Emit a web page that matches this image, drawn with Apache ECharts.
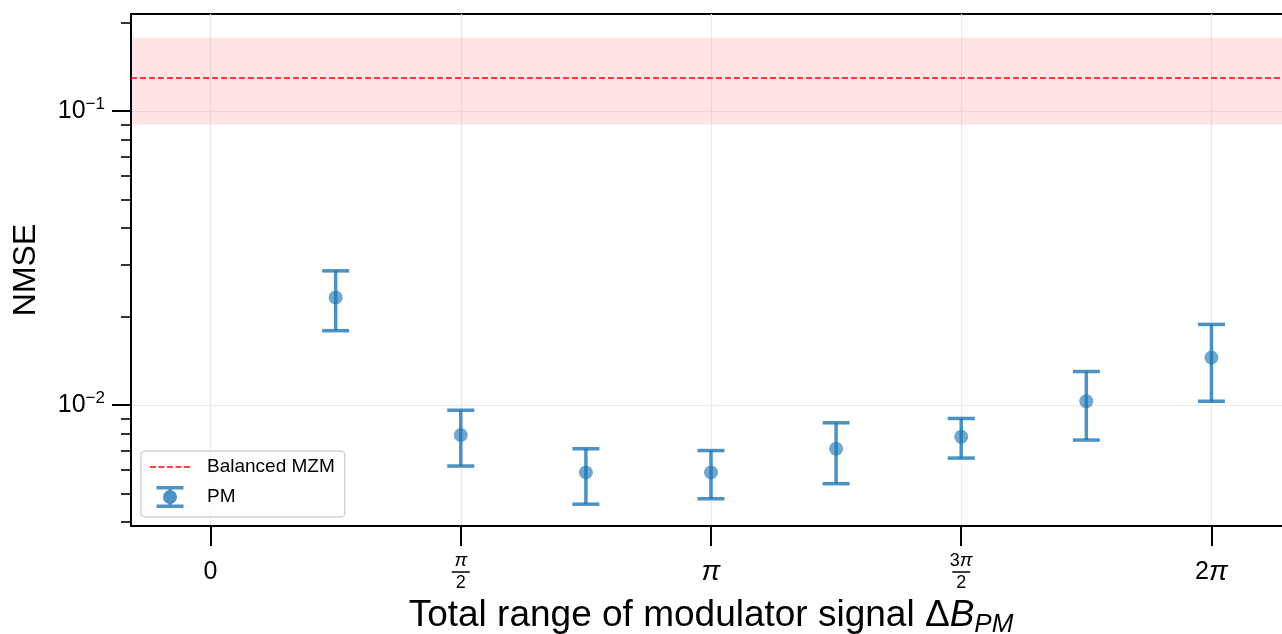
<!DOCTYPE html>
<html>
<head>
<meta charset="utf-8">
<script src="https://cdn.jsdelivr.net/npm/echarts@6/dist/echarts.min.js"></script>
<style>
  html, body { margin: 0; padding: 0; background: #fff; }
  #chart { width: 1282px; height: 634px; }
</style>
</head>
<body>
<div id="chart"></div>
<script>
// x positions in units of pi
var xPositions = [0.25, 0.5, 0.75, 1, 1.25, 1.5, 1.75, 2];
var nmse     = [0.0232, 0.0079, 0.0059, 0.0059, 0.0071, 0.0078, 0.0103, 0.0145];
var nmseLow  = [0.0179, 0.0062, 0.0046, 0.0048, 0.0054, 0.0066, 0.0076, 0.0103];
var nmseHigh = [0.0286, 0.0096, 0.0071, 0.0070, 0.0087, 0.0090, 0.0130, 0.0188];

// balanced MZM reference (mean and band)
var mzmMean = 0.134;
var mzmLow = 0.0898;
var mzmHigh = 0.1776;

var xTickValues = [0, 0.5, 1, 1.5, 2];
var xTickLabels = ['0', 'π/2', 'π', '3π/2', '2π'];
var yMajorTicks = [0.01, 0.1];
var yMinorTicks = [0.004, 0.005, 0.006, 0.007, 0.008, 0.009,
                   0.02, 0.03, 0.04, 0.05, 0.06, 0.07, 0.08, 0.09, 0.2];

var pmColor = 'rgba(31,119,180,0.8)';
var font = 'Liberation Sans';

function xLabel(v) {
  var best = 0;
  for (var i = 0; i < xTickValues.length; i++) {
    if (Math.abs(xTickValues[i] - v) < Math.abs(xTickValues[best] - v)) best = i;
  }
  var s = xTickLabels[best];
  if (s.indexOf('/') >= 0) {
    var num = s.split('/')[0], den = s.split('/')[1];
    var top = num.length > 1 ? '{fnu|' + num.slice(0, -1) + '}{fn|π}' : '{fn|π}';
    return top + '\n{fb| }\n{fd|' + den + '}';
  }
  if (s === 'π') return '{pi|π}';
  if (s === '2π') return '{n|2}{pi|π}';
  return '{n|' + s + '}';
}

function yLabel(v) {
  var e = Math.round(Math.log10(v));
  return '{b|10}{e|−' + (-e) + '}';
}

var dashIcon = 'path://M0,0L0.01,0L0,0.01Z M52,22L51.99,22L52,21.99Z' +
  ' M0,10.25H6V11.75H0Z M8.5,10.25H14.5V11.75H8.5Z M17,10.25H23V11.75H17Z' +
  ' M25.5,10.25H31.5V11.75H25.5Z M34,10.25H40V11.75H34Z';
var pmIcon = 'path://M0,0L0.01,0L0,0.01Z M52,22L51.99,22L52,21.99Z' +
  ' M6.5,0H33.5V3.5H6.5Z M6.5,18.5H33.5V22H6.5Z M18.25,3.5H21.75V18.5H18.25Z' +
  ' M27,11A7,7 0 1,1 13,11A7,7 0 1,1 27,11Z';

var errData = xPositions.map(function (x, i) { return [x, nmseLow[i], nmseHigh[i]]; });
var ptData = xPositions.map(function (x, i) { return [x, nmse[i]]; });

var chart = echarts.init(document.getElementById('chart'));
var options = {
  animation: false,
  textStyle: { fontFamily: font },
  grid: {
    left: 131, right: -9, top: 14, bottom: 108,
    containLabel: false,
    outerBoundsMode: 'none',
    show: true, borderColor: '#000', borderWidth: 2
  },
  legend: {
    orient: 'vertical',
    left: 141, top: 451,
    padding: [5, 10, 9, 9],
    itemGap: 8,
    itemWidth: 52, itemHeight: 22,
    backgroundColor: 'rgba(255,255,255,0.8)',
    borderColor: '#d4d4d4', borderWidth: 1.5, borderRadius: 4,
    textStyle: { fontSize: 19, color: '#000', fontFamily: font },
    selectedMode: false,
    data: [
      { name: 'Balanced MZM', icon: dashIcon, itemStyle: { color: '#ff0000' } },
      { name: 'PM', icon: pmIcon, itemStyle: { color: pmColor } }
    ]
  },
  xAxis: {
    type: 'value',
    min: -0.159, max: 2.159,
    name: '{t|Total range of modulator signal Δ}{i|B}{s|PM}',
    nameLocation: 'middle',
    nameGap: 67,
    nameTextStyle: {
      rich: {
        t: { fontSize: 37, color: '#000', fontFamily: font, lineHeight: 44 },
        i: { fontSize: 37, color: '#000', fontFamily: font, fontStyle: 'italic', lineHeight: 44 },
        s: { fontSize: 26, color: '#000', fontFamily: font, fontStyle: 'italic', lineHeight: 26, verticalAlign: 'bottom' }
      }
    },
    axisLine: { show: true, onZero: false, lineStyle: { color: '#000', width: 2 } },
    axisTick: { show: true, length: 20, customValues: xTickValues, lineStyle: { color: '#000', width: 2 } },
    axisLabel: {
      customValues: xTickValues,
      margin: 46,
      verticalAlign: 'middle',
      formatter: xLabel,
      rich: {
        n: { fontSize: 25, color: '#000', lineHeight: 28, fontFamily: font },
        pi: { fontSize: 28, color: '#000', lineHeight: 28, fontStyle: 'italic', fontFamily: font },
        fn: { fontSize: 19, color: '#000', lineHeight: 17, fontStyle: 'italic', fontFamily: font, align: 'center' },
        fnu: { fontSize: 18, color: '#000', lineHeight: 17, fontFamily: font },
        fb: { fontSize: 1, width: 18, height: 1.5, lineHeight: 5, backgroundColor: '#000', align: 'center' },
        fd: { fontSize: 18, color: '#000', lineHeight: 17, fontFamily: font, align: 'center' }
      }
    },
    splitLine: { show: true, lineStyle: { color: '#ebebeb', width: 1.2 } }
  },
  yAxis: [
    {
      type: 'log', logBase: 10,
      min: 0.003877, max: 0.2138,
      name: 'NMSE',
      nameLocation: 'middle',
      nameRotate: 90,
      nameGap: 89,
      nameTextStyle: { fontSize: 32, color: '#000', fontFamily: font },
      axisLine: { show: true, onZero: false, lineStyle: { color: '#000', width: 2 } },
      axisTick: { show: true, length: 19, customValues: yMajorTicks, lineStyle: { color: '#000', width: 2 } },
      axisLabel: {
        customValues: yMajorTicks,
        margin: 26,
        formatter: yLabel,
        rich: {
          b: { fontSize: 25, color: '#000', lineHeight: 30, fontFamily: font },
          e: { fontSize: 17, color: '#000', lineHeight: 16, verticalAlign: 'top', fontFamily: font }
        }
      },
      splitLine: { show: true, lineStyle: { color: '#ebebeb', width: 1.2 } }
    },
    {
      type: 'log', logBase: 10,
      min: 0.003877, max: 0.2138,
      position: 'left',
      axisLine: { show: false, onZero: false },
      axisTick: { show: true, length: 10, customValues: yMinorTicks, lineStyle: { color: '#000', width: 1.6 } },
      axisLabel: { show: false },
      splitLine: { show: false }
    }
  ],
  series: [
    {
      name: 'Balanced MZM',
      type: 'line',
      data: [],
      symbol: 'none',
      lineStyle: { color: '#ff0000', type: [6, 3], width: 1.5 },
      markArea: {
        silent: true,
        itemStyle: { color: 'rgba(255,0,0,0.1)' },
        data: [[{ yAxis: mzmLow }, { yAxis: mzmHigh }]]
      },
      markLine: {
        silent: true,
        symbol: ['none', 'none'],
        label: { show: false },
        lineStyle: { color: '#ff0000', type: [6, 3], width: 1.5 },
        data: [{ yAxis: mzmMean }]
      }
    },
    {
      name: 'PM',
      type: 'custom',
      data: errData,
      encode: { x: 0, y: [1, 2] },
      renderItem: function (params, api) {
        var lo = api.coord([api.value(0), api.value(1)]);
        var hi = api.coord([api.value(0), api.value(2)]);
        var hw = 13.5;
        var st = { stroke: pmColor, lineWidth: 3.5, fill: null };
        return {
          type: 'group',
          children: [
            { type: 'line', shape: { x1: lo[0], y1: lo[1], x2: hi[0], y2: hi[1] }, style: st },
            { type: 'line', shape: { x1: hi[0] - hw, y1: hi[1], x2: hi[0] + hw, y2: hi[1] }, style: st },
            { type: 'line', shape: { x1: lo[0] - hw, y1: lo[1], x2: lo[0] + hw, y2: lo[1] }, style: st }
          ]
        };
      },
      z: 3
    },
    {
      name: 'PM',
      type: 'scatter',
      data: ptData,
      symbolSize: 14,
      itemStyle: { color: pmColor },
      z: 4
    }
  ]
};
chart.setOption(options);
</script>
</body>
</html>
